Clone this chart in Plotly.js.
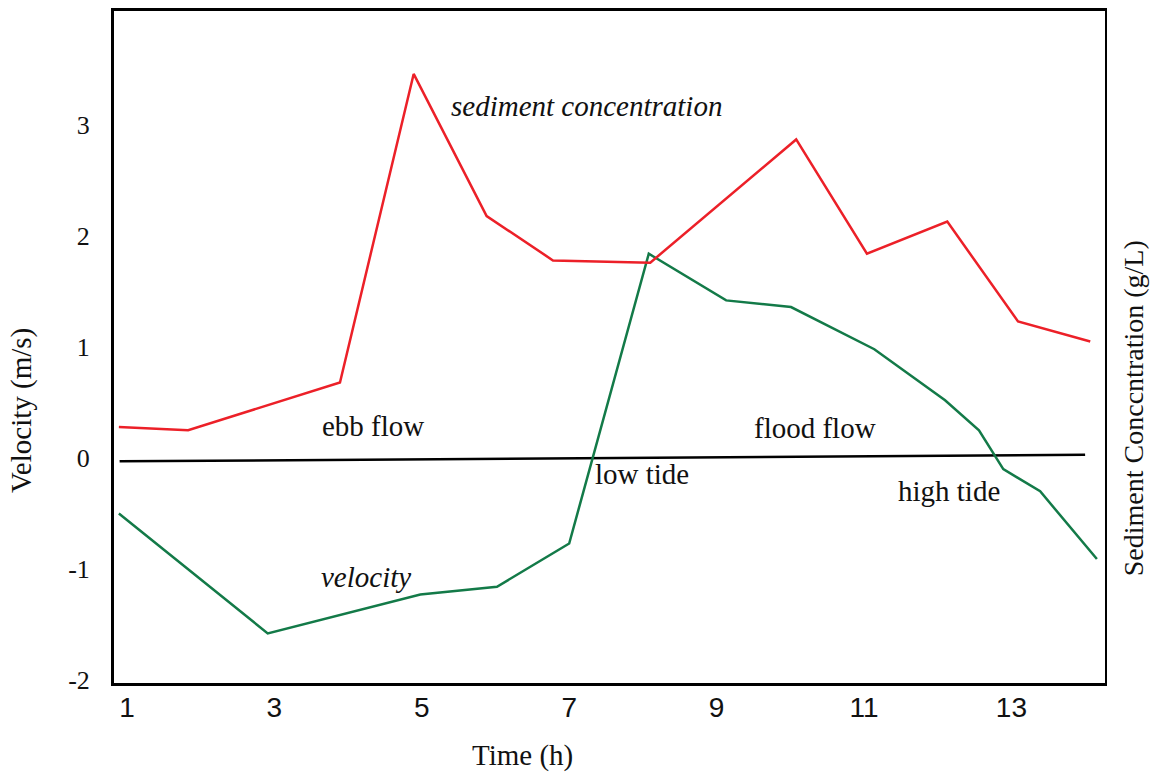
<!DOCTYPE html>
<html>
<head>
<meta charset="utf-8">
<script src="https://cdn.plot.ly/plotly-3.0.1.min.js"></script>
<style>html,body{margin:0;padding:0;background:#fff;}#chart{width:1150px;height:772px;}</style>
</head>
<body>
<div id="chart"></div>
<script>
// Time (h) of each vertex
var timeSediment = [0.89, 1.83, 3.89, 4.89, 5.88, 6.78, 8.10, 10.08, 11.04, 12.13, 13.09, 14.07];
var sediment = [0.28, 0.25, 0.68, 3.46, 2.18, 1.78, 1.76, 2.87, 1.84, 2.13, 1.23, 1.05];
var timeVelocity = [0.89, 2.91, 4.98, 6.02, 7.0, 8.08, 9.13, 10.01, 11.14, 12.10, 12.56, 12.89, 13.39, 14.16];
var velocity = [-0.50, -1.58, -1.23, -1.16, -0.77, 1.84, 1.42, 1.36, 0.98, 0.52, 0.25, -0.10, -0.30, -0.91];
var zeroLineTime = [0.90, 14.0];
var zeroLineValue = [-0.03, 0.03];
var xTicks = [1, 3, 5, 7, 9, 11, 13];
var yTicks = [-2, -1, 0, 1, 2, 3];

var serif = 'Liberation Serif, Times New Roman, serif';
var yRange = [-2.027, 4.027];

var traces = [
  {x: zeroLineTime, y: zeroLineValue, type: 'scatter', mode: 'lines',
   line: {color: '#000000', width: 2.5}, hoverinfo: 'skip', showlegend: false},
  {x: timeSediment, y: sediment, type: 'scatter', mode: 'lines', yaxis: 'y2',
   name: 'sediment concentration', line: {color: '#ec2028', width: 2.5}},
  {x: timeVelocity, y: velocity, type: 'scatter', mode: 'lines',
   name: 'velocity', line: {color: '#137a48', width: 2.5}}
];

function ann(text, x, y, italic) {
  return {text: text, x: x, y: y, xref: 'x', yref: 'y', showarrow: false,
    xanchor: 'center', yanchor: 'middle',
    font: {family: serif, size: 29, color: '#111', style: italic ? 'italic' : 'normal'}};
}

var layout = {
  width: 1150, height: 772,
  margin: {l: 114, r: 45, t: 11, b: 89},
  paper_bgcolor: '#fff', plot_bgcolor: '#fff',
  showlegend: false,
  xaxis: {range: [0.824, 14.27], tickvals: xTicks, ticktext: xTicks.map(String),
    showgrid: false, zeroline: false, showline: true, mirror: true,
    linecolor: '#000', linewidth: 3, ticks: '', ticklabelstandoff: -3,
    tickfont: {family: 'Liberation Sans Narrow, Arial Narrow, sans-serif', size: 28, color: '#111'}},
  yaxis: {range: yRange, tickvals: yTicks, ticktext: yTicks.map(String),
    showgrid: false, zeroline: false, showline: true,
    linecolor: '#000', linewidth: 3, ticks: '', ticklabelstandoff: 16,
    tickfont: {family: serif, size: 26, color: '#111'}},
  yaxis2: {range: yRange, overlaying: 'y', side: 'right', showgrid: false, zeroline: false,
    showline: true, linecolor: '#000', linewidth: 2, showticklabels: false, ticks: ''},
  annotations: [
    ann('sediment concentration', 7.24, 3.17, true),
    ann('ebb flow', 4.34, 0.29, false),
    ann('velocity', 4.24, -1.07, true),
    ann('flood flow', 10.34, 0.27, false),
    ann('low tide', 7.99, -0.14, false),
    ann('high tide', 12.15, -0.30, false),
    {text: 'Time (h)', xref: 'paper', yref: 'paper', x: 0.4127, y: -0.1086,
     xanchor: 'center', yanchor: 'middle', showarrow: false,
     font: {family: serif, size: 29, color: '#111'}},
    {text: 'Velocity (m/s)', xref: 'paper', yref: 'paper', x: -0.0928, y: 0.405,
     xanchor: 'center', yanchor: 'middle', showarrow: false, textangle: -90,
     font: {family: serif, size: 29, color: '#111'}},
    {text: 'Sediment Conccntration (g/L)', xref: 'paper', yref: 'paper', x: 1.0283, y: 0.409,
     xanchor: 'center', yanchor: 'middle', showarrow: false, textangle: -90,
     font: {family: serif, size: 28, color: '#111'}}
  ]
};

Plotly.newPlot('chart', traces, layout, {displayModeBar: false, staticPlot: true});
</script>
</body>
</html>
